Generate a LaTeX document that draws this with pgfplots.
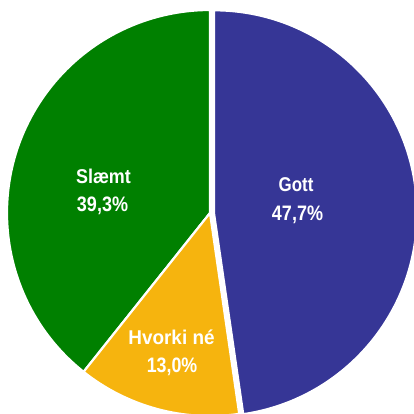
\documentclass[border=0pt]{standalone}
\usepackage{pgfplots}
\pgfplotsset{compat=1.18}
\usepackage{pgfplotstable}
\usepackage{fontspec}
\setmainfont{Liberation Sans}
\definecolor{cblue}{RGB}{54,54,150}
\definecolor{cgreen}{RGB}{0,128,0}
\definecolor{cyellow}{RGB}{246,180,14}
\pgfplotstableread{
label value
Gott 47.7
Hvorki 13.0
Slaemt 39.3
}\piedata
\begin{document}
\begin{tikzpicture}
\pgfplotstablegetelem{0}{value}\of\piedata\let\vA\pgfplotsretval
\pgfplotstablegetelem{1}{value}\of\piedata\let\vB\pgfplotsretval
\pgfplotstablegetelem{2}{value}\of\piedata\let\vC\pgfplotsretval
\pgfmathsetmacro{\aA}{90-3.6*\vA}
\pgfmathsetmacro{\aB}{\aA-3.6*\vB}
\pgfmathsetmacro{\aC}{\aB-3.6*\vC}
\begin{axis}[scale only axis, width=414bp, height=414bp,
  xmin=0, xmax=414, ymin=0, ymax=414, hide axis, clip=true]
\fill[cgreen, draw=white, line width=2.2bp] (axis cs:210,201) -- ++(\aB:203bp) arc[start angle=\aB, end angle=\aC, radius=203bp] -- cycle;
\fill[cyellow, draw=white, line width=2.2bp] (axis cs:210,201) -- ++(\aA:203bp) arc[start angle=\aA, end angle=\aB, radius=203bp] -- cycle;
\fill[cblue, draw=white, line width=2.2bp] (axis cs:214,200.7) -- ++(90:203bp) arc[start angle=90, end angle=\aA, radius=203bp] -- cycle;
\tikzset{lbl/.style={text=white, inner sep=0pt, font=\fontsize{20}{20}\selectfont\bfseries},
  num/.style={text=white, inner sep=0pt, font=\fontsize{21}{21}\selectfont\bfseries}}
\node[lbl] at (axis cs:296,229.5) {\scalebox{0.85}[1]{Gott}};
\node[num] at (axis cs:297.5,199) {\scalebox{0.86}[1]{47,7\%}};
\node[lbl] at (axis cs:103.5,238) {\scalebox{0.9}[1]{Slæmt}};
\node[num] at (axis cs:102.5,208.5) {\scalebox{0.86}[1]{39,3\%}};
\node[lbl] at (axis cs:171.5,77) {\scalebox{0.95}[1]{Hvorki né}};
\node[num] at (axis cs:172,47.5) {\scalebox{0.85}[1]{13,0\%}};
\end{axis}
\pgfresetboundingbox
\path[use as bounding box] (current axis.south west) rectangle (current axis.north east);
\end{tikzpicture}
\end{document}
